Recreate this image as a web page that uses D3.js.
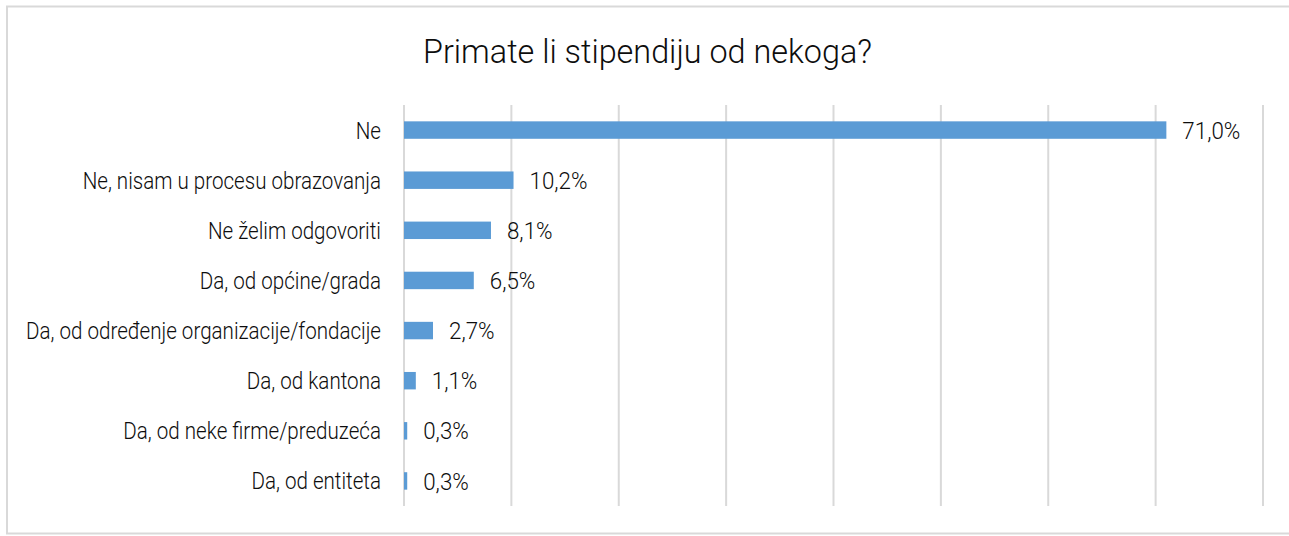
<!DOCTYPE html>
<html>
<head>
<meta charset="utf-8">
<script src="https://cdn.jsdelivr.net/npm/d3@7"></script>
<style>
  body { margin: 0; background: #fff; }
  text { font-family: Roboto, "Open Sans", sans-serif; font-weight: 300; fill: #0d0d0d; }
</style>
</head>
<body>
<script>
var categories = ["Ne", "Ne, nisam u procesu obrazovanja", "Ne želim odgovoriti", "Da, od općine/grada",
	"Da, od određenje organizacije/fondacije", "Da, od kantona", "Da, od neke firme/preduzeća", "Da, od entiteta"];
var values = [71.0, 10.2, 8.1, 6.5, 2.7, 1.1, 0.3, 0.3];
var ticks = [0, 10, 20, 30, 40, 50, 60, 70, 80];
var title = "Primate li stipendiju od nekoga?";

var width = 1289, height = 536;

var svg = d3.select("body").append("svg")
	.attr("width", width)
	.attr("height", height);

// squeeze a text group so that one reference string gets the wanted width
function condense(sel, refWidth, refIndex) {
	var nodes = sel.nodes();
	var k = refWidth / nodes[refIndex].getComputedTextLength();
	sel.each(function () {
		d3.select(this)
			.attr("textLength", this.getComputedTextLength() * k)
			.attr("lengthAdjust", "spacingAndGlyphs");
	});
}

// chart frame
svg.append("rect")
	.attr("x", 7).attr("y", 6.5)
	.attr("width", 1290).attr("height", 527)
	.attr("fill", "none")
	.attr("stroke", "#d9d9d9")
	.attr("stroke-width", 2);

var x = d3.scaleLinear().domain([0, 80]).range([404, 1263]);
var y = d3.scaleBand().domain(categories).range([105, 506])
	.paddingInner(0.652).paddingOuter(0.326);

var titleText = svg.append("text")
	.attr("x", 647.5).attr("y", 63)
	.attr("text-anchor", "middle")
	.attr("font-size", 33)
	.text(title);
condense(titleText, 449, 0);

svg.append("g")
	.selectAll("line")
	.data(ticks)
	.enter().append("line")
	.attr("x1", function (d) { return x(d); })
	.attr("x2", function (d) { return x(d); })
	.attr("y1", 105)
	.attr("y2", 506)
	.attr("stroke", "#d9d9d9")
	.attr("stroke-width", 2);

svg.append("g")
	.selectAll("rect")
	.data(values)
	.enter().append("rect")
	.attr("x", x(0))
	.attr("y", function (d, i) { return y(categories[i]); })
	.attr("width", function (d) { return x(d) - x(0); })
	.attr("height", y.bandwidth())
	.attr("fill", "#5b9bd5");

var catText = svg.append("g")
	.selectAll("text")
	.data(categories)
	.enter().append("text")
	.attr("x", 381)
	.attr("y", function (d) { return y(d) + y.bandwidth() / 2; })
	.attr("dy", "0.36em")
	.attr("text-anchor", "end")
	.attr("font-size", 23.5)
	.text(function (d) { return d; });
condense(catText, 355, 4);

var valText = svg.append("g")
	.selectAll("text")
	.data(values)
	.enter().append("text")
	.attr("x", function (d) { return x(d) + 16; })
	.attr("y", function (d, i) { return y(categories[i]) + y.bandwidth() / 2; })
	.attr("dy", "0.36em")
	.attr("font-size", 24)
	.text(function (d) { return d.toFixed(1).replace(".", ",") + "%"; });
condense(valText, 58, 0);
</script>
</body>
</html>
